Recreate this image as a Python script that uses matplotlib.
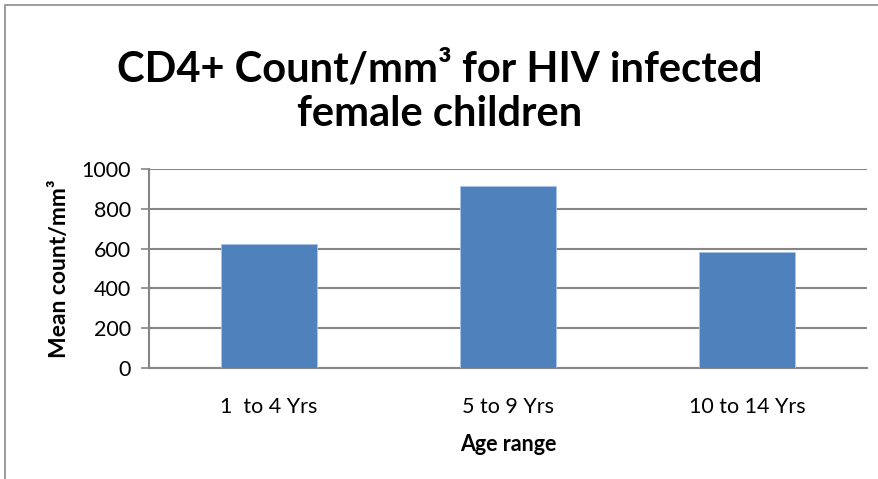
import matplotlib
matplotlib.use("Agg")
import matplotlib.pyplot as plt
from matplotlib.patches import Rectangle

categories = ["1  to 4 Yrs", "5 to 9 Yrs", "10 to 14 Yrs"]
values = [621, 913, 584]
yticks = [0, 200, 400, 600, 800, 1000]

W, H = 879, 479
fig = plt.figure(figsize=(W / 100, H / 100), dpi=100)
plt.rcParams['font.family'] = ['Lato', 'DejaVu Sans']

# outer chart-area border (top and left visible)
fig.patches.append(Rectangle((5 / W, -0.1), 1.2, (H - 5) / H + 0.1, transform=fig.transFigure,
                             fill=False, edgecolor='#8c8c8c', linewidth=1.2))

left, right, top, bottom = 149, 867, 169, 368
ax = fig.add_axes([left / W, 1 - bottom / H, (right - left) / W, (bottom - top) / H])
grey = '#868686'
ax.bar(range(len(categories)), values, width=0.40, color='#4f81bd', edgecolor='#a9c4e8', linewidth=0.6, zorder=3)
ax.set_xlim(-0.5, len(categories) - 0.5)
ax.set_ylim(0, 1000)
ax.set_yticks(yticks)
ax.set_yticklabels([str(v) for v in yticks], fontsize=15.5)
ax.set_xticks(range(len(categories)))
ax.set_xticklabels(categories, fontsize=15.5)
ax.yaxis.grid(True, color=grey, linewidth=1.5, zorder=0)
ax.set_axisbelow(True)
for s in ['top', 'right']:
    ax.spines[s].set_visible(False)
for s in ['left', 'bottom']:
    ax.spines[s].set_color(grey)
    ax.spines[s].set_linewidth(1.5)
ax.tick_params(axis='y', length=6, color=grey, width=1.2, pad=7)
ax.tick_params(axis='x', length=0, pad=21)
ax.set_xlabel("Age range", fontsize=15.5, fontweight='bold', labelpad=12)
ax.set_ylabel("Mean count/mm³", fontsize=16.5, fontweight='bold', labelpad=8)

fig.text(0.5, 1 - 92 / H, "CD4+ Count/mm³ for HIV infected\nfemale children",
         ha='center', va='center', fontsize=30, fontweight='bold', linespacing=1.2)

fig.savefig("out.png", dpi=100, facecolor='white')
